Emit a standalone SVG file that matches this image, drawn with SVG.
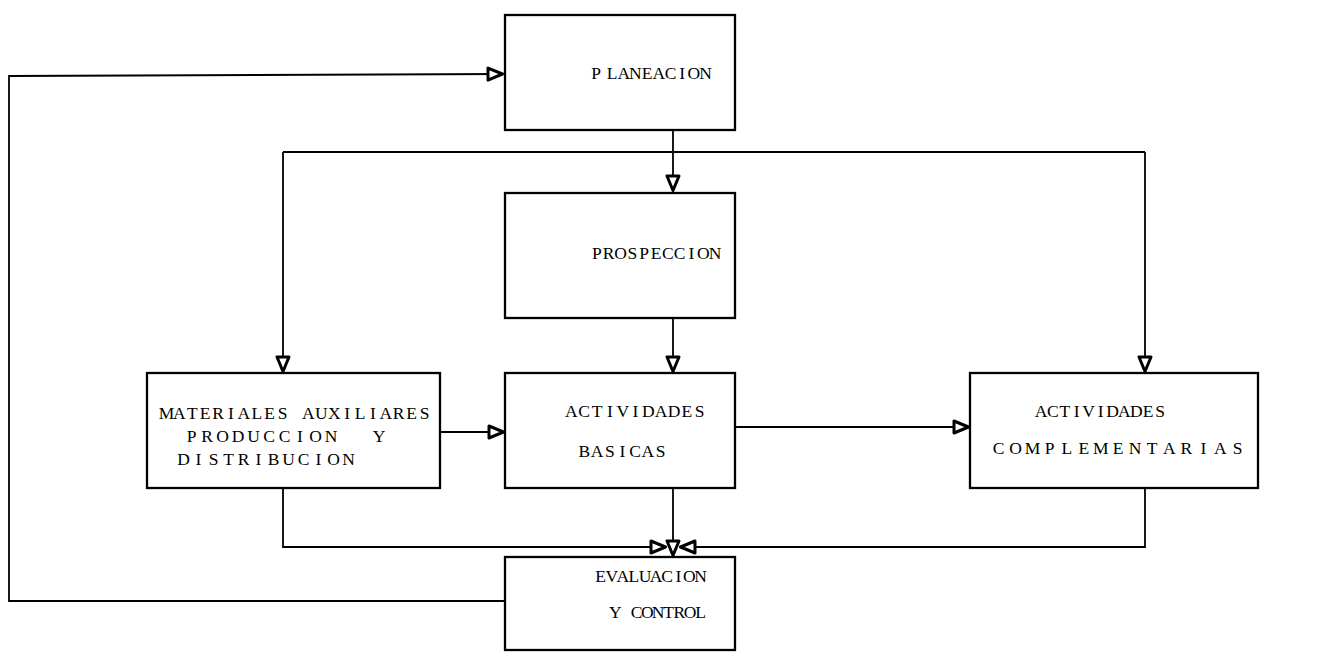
<svg xmlns="http://www.w3.org/2000/svg" width="1329" height="665" viewBox="0 0 1329 665">
  <style>
    .box { fill: #fff; stroke: #000; stroke-width: 2.3; }
    .wire { fill: none; stroke: #000; stroke-width: 1.8; }
    /* typewriter-style labels: every glyph is centred in its own fixed-pitch cell */
    .lbl { font-family: "Liberation Serif", "DejaVu Serif", serif; font-size: 17.5px; fill: #000; text-anchor: middle; }
  </style>
  <defs>
    <marker id="tri" viewBox="0 0 18 16" refX="17" refY="8" markerWidth="18" markerHeight="16" markerUnits="userSpaceOnUse" orient="auto">
      <path d="M2,2 L16.5,8 L2,14 Z" fill="#fff" stroke="#000" stroke-width="3" stroke-linejoin="round"/>
    </marker>
  </defs>
  <rect width="1329" height="665" fill="#fff"/>

  <g id="connectors">
    <!-- feedback loop from evaluation back to planning -->
    <path class="wire" d="M505,601 L9,601 L9,76 L503,74" marker-end="url(#tri)"/>
    <!-- planning down to prospection -->
    <path class="wire" d="M673,130 L673,191" marker-end="url(#tri)"/>
    <!-- planning distribution bar -->
    <path class="wire" d="M283,152 L1145,152"/>
    <path class="wire" d="M283,152 L283,372" marker-end="url(#tri)"/>
    <path class="wire" d="M1145,152 L1145,372" marker-end="url(#tri)"/>
    <!-- prospection down to basic activities -->
    <path class="wire" d="M673,318 L673,372" marker-end="url(#tri)"/>
    <!-- side flows -->
    <path class="wire" d="M440,432 L504,432" marker-end="url(#tri)"/>
    <path class="wire" d="M735,427 L969,427" marker-end="url(#tri)"/>
    <!-- gathering into evaluation -->
    <path class="wire" d="M283,488 L283,547 L666,547" marker-end="url(#tri)"/>
    <path class="wire" d="M1145,488 L1145,547 L680,547" marker-end="url(#tri)"/>
    <path class="wire" d="M673,488 L673,556" marker-end="url(#tri)"/>
  </g>

  <g id="planeacion">
    <rect class="box" x="505" y="15" width="230" height="115"/>
    <text class="lbl" x="596 604 612 623.7 635.4 647.1 658.8 670.5 682.2 693.9 705.6" y="79">P LANEACION</text>
  </g>

  <g id="prospeccion">
    <rect class="box" x="505" y="193" width="230" height="125"/>
    <text class="lbl" x="596.9 608.7 620.5 632.4 644.2 656.0 667.8 679.6 691.5 703.3 715.1" y="259">PROSPECCION</text>
  </g>

  <g id="materiales">
    <rect class="box" x="147" y="373" width="293" height="115"/>
    <text class="lbl" x="166.5 179.4 192.3 205.2 218.1 231.0 243.9 256.8 269.7 282.6 295.5 308.4 321.3 334.2 347.1 360.0 372.9 385.8 398.7 411.6 424.5" y="419">MATERIALES AUXILIARES</text>
    <text class="lbl" x="191.5 207 222.5 238 253.5 269 284.5 300 315.5 331 355 379" y="442">PRODUCCION Y</text>
    <text class="lbl" x="183.5 198.5 213.5 228.5 243.5 258.5 273.5 288.5 303.5 318.5 333.5 348.5" y="465">DISTRIBUCION</text>
  </g>

  <g id="basicas">
    <rect class="box" x="505" y="373" width="230" height="115"/>
    <text class="lbl" x="571.4 584.2 597.0 609.9 622.7 635.5 648.3 661.1 674.0 686.8 699.6" y="417">ACTIVIDADES</text>
    <text class="lbl" x="584.4 597.1 609.8 622.5 635.2 647.9 660.7" y="457">BASICAS</text>
  </g>

  <g id="complementarias">
    <rect class="box" x="970" y="373" width="288" height="115"/>
    <text class="lbl" x="1041.0 1052.9 1064.8 1076.7 1088.6 1100.6 1112.5 1124.4 1136.3 1148.2 1160.1" y="417">ACTIVIDADES</text>
    <text class="lbl" x="998.5 1015.6 1032.6 1049.7 1066.8 1083.9 1100.9 1118.0 1135.1 1152.1 1169.2 1186.3 1203.3 1220.4 1237.5" y="454">COMPLEMENTARIAS</text>
  </g>

  <g id="evaluacion">
    <rect class="box" x="505" y="557" width="230" height="93"/>
    <text class="lbl" x="600.6 611.7 622.8 633.9 645.0 656.1 667.2 678.3 689.4 700.5" y="582">EVALUACION</text>
    <text class="lbl" x="615.3 626.0 636.6 647.3 658.0 668.7 679.3 690.0 700.7" y="618">Y CONTROL</text>
  </g>
</svg>
